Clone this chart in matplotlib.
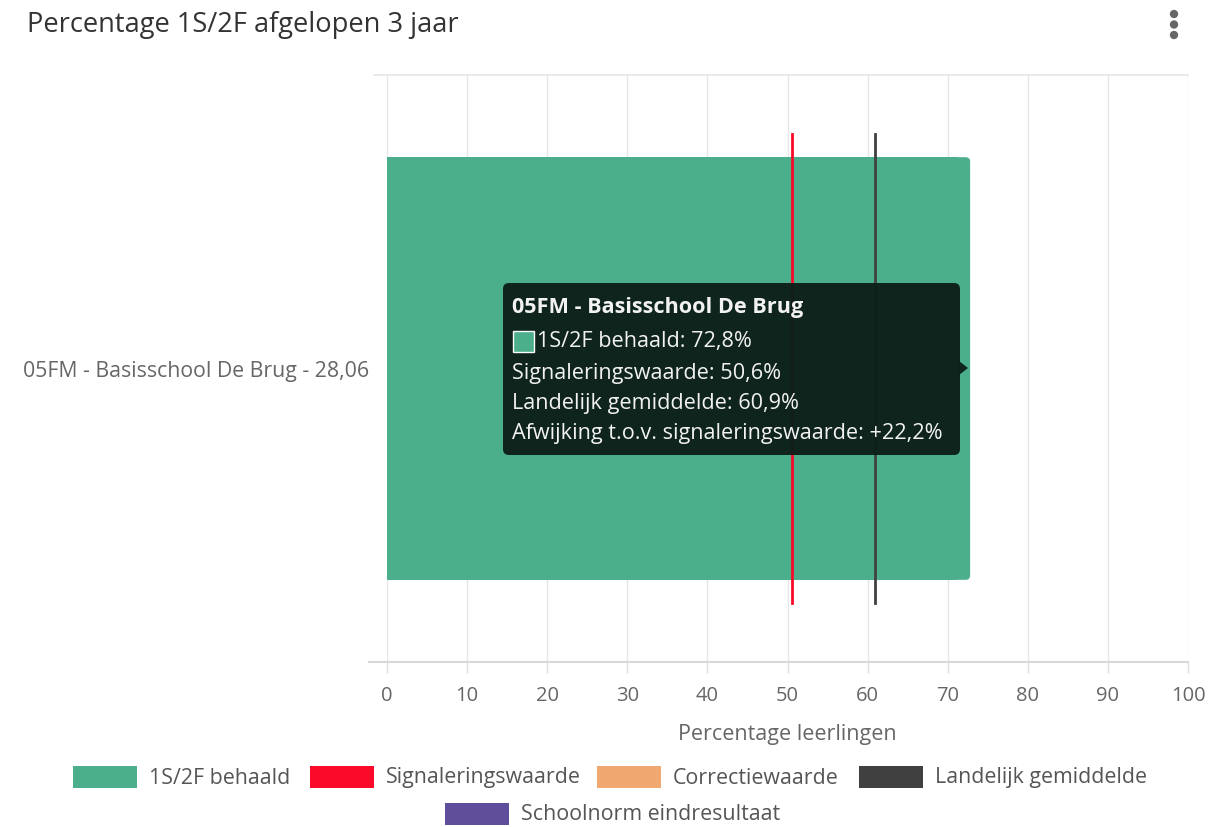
import matplotlib
matplotlib.use("Agg")
import matplotlib.pyplot as plt
from matplotlib.patches import FancyBboxPatch, Rectangle, Polygon

# ---- data ----
title = "Percentage 1S/2F afgelopen 3 jaar"
categories = ["05FM - Basisschool De Brug - 28,06"]
school_names = ["05FM - Basisschool De Brug"]
behaald = [72.8]
signalering = [50.6]
landelijk = [60.9]
xticks = [0, 10, 20, 30, 40, 50, 60, 70, 80, 90, 100]
xlabel = "Percentage leerlingen"
legend_labels = ["1S/2F behaald", "Signaleringswaarde", "Correctiewaarde",
                 "Landelijk gemiddelde", "Schoolnorm eindresultaat"]
legend_colors = ["#4caf8c", "#fa0a28", "#f0a870", "#404040", "#5f4e9a"]

FONT = ["Open Sans", "DejaVu Sans"]
plt.rcParams["font.family"] = FONT

W, H = 1217, 827
fig = plt.figure(figsize=(W / 100, H / 100), dpi=100)

def fx(px):
    return px / W

def fy(py):
    return 1 - py / H

ax = fig.add_axes([fx(387), fy(662), fx(1188) - fx(387), fy(75) - fy(662)])
ax.set_xlim(0, 100)
ax.set_ylim(0.5, -0.5)
for s in ax.spines.values():
    s.set_visible(False)
ax.set_xticks(xticks)
ax.set_xticklabels([str(t) for t in xticks], fontsize=14.5, color="#666666")
ax.tick_params(axis="x", length=8, color="#e0e0e0", width=1, pad=9)
ax.set_yticks(range(len(categories)))
ax.set_yticklabels(categories, fontsize=15.3, color="#666666")
ax.tick_params(axis="y", length=0, pad=13)
ax.grid(axis="x", color="#e6e6e6", linewidth=1)
ax.set_axisbelow(True)
ax.set_xlabel(xlabel, fontsize=15.5, color="#666666", labelpad=13)

# category boundary lines (top) and axis line (bottom)
ax.plot([-1.6, 100], [-0.5, -0.5], color="#e6e6e6", lw=1.2, clip_on=False, zorder=1)
ax.plot([-2.3, 100], [0.5, 0.5], color="#d8d8d8", lw=1.5, clip_on=False, zorder=1)

# bars with rounded right corners
bar_h = 0.72
xpx = 100 / 801.0
ypx = 1 / 587.0
r_px = 4.5
for i, v in enumerate(behaald):
    p = FancyBboxPatch((0, i - bar_h / 2), v, bar_h,
                       boxstyle=f"round,pad=0,rounding_size={r_px * xpx}",
                       mutation_aspect=ypx / xpx,
                       facecolor=legend_colors[0], edgecolor="none", zorder=2)
    ax.add_patch(p)
    ax.add_patch(Rectangle((0, i - bar_h / 2), v - 3 * r_px * xpx, bar_h,
                           facecolor=legend_colors[0], edgecolor="none", zorder=2,
                           antialiased=False))

line_h = 0.8
for i, (s, l) in enumerate(zip(signalering, landelijk)):
    ax.plot([s, s], [i - line_h / 2, i + line_h / 2], color=legend_colors[1], lw=2, zorder=3)
    ax.plot([l, l], [i - line_h / 2, i + line_h / 2], color=legend_colors[3], lw=2, zorder=3)

# title
fig.text(fx(27), fy(25), title, fontsize=19.6, color="#333333", va="center", ha="left")

# overlay axes in pixel coordinates
tax = fig.add_axes([0, 0, 1, 1], zorder=10)
tax.set_xlim(0, W)
tax.set_ylim(H, 0)
tax.axis("off")

# kebab menu
tax.scatter([1174] * 3, [14, 24.5, 35], s=36, color="#666666", edgecolors="none")

# tooltip
bx0, by0, bx1, by1 = 503, 283, 960, 455
tax.add_patch(FancyBboxPatch((bx0, by0), bx1 - bx0, by1 - by0,
                             boxstyle="round,pad=0,rounding_size=6",
                             facecolor="#0c1f19", edgecolor="none", alpha=0.97))
tax.add_patch(Polygon([[bx1 - 1, 361], [bx1 + 8, 368], [bx1 - 1, 375]], closed=True,
                      facecolor="#0c1f19", edgecolor="none", alpha=0.97))
tc = "#f2f2f2"
tfs = 15.6
tax.text(512, 307, school_names[0], fontsize=tfs, fontweight="bold", color=tc, va="center")
tax.add_patch(Rectangle((513, 331), 21, 21, facecolor=legend_colors[0], edgecolor="#ffffff", lw=1))
fmt = lambda v: f"{v:.1f}".replace(".", ",")
tax.text(537, 342, f"{legend_labels[0]}: {fmt(behaald[0])}%", fontsize=tfs, color=tc, va="center")
tax.text(512, 373, f"{legend_labels[1]}: {fmt(signalering[0])}%", fontsize=tfs, color=tc, va="center")
tax.text(512, 404, f"{legend_labels[3]}: {fmt(landelijk[0])}%", fontsize=tfs, color=tc, va="center")
diff = behaald[0] - signalering[0]
tax.text(512, 434, f"Afwijking t.o.v. signaleringswaarde: +{fmt(diff)}%", fontsize=tfs, color=tc, va="center")

# legend
leg_items = [(73, 777), (310, 777), (597, 777), (859, 777), (445, 814)]
for (lx, ly), lab, col in zip(leg_items, legend_labels, legend_colors):
    tax.add_patch(Rectangle((lx, ly - 11), 64, 22, facecolor=col, edgecolor="none"))
    tax.text(lx + 76, ly + 1, lab, fontsize=15.4, color="#555555", va="center", ha="left")

fig.savefig("out.png", dpi=100)
